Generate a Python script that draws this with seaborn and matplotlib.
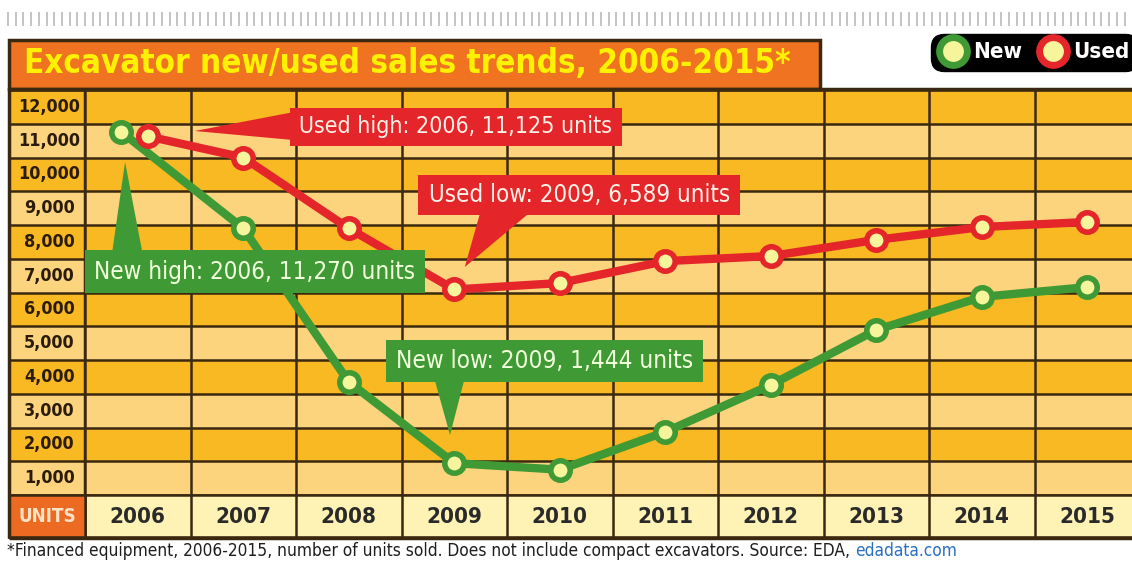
import numpy as np
import pandas as pd
import seaborn as sns
import matplotlib.pyplot as plt
from matplotlib import font_manager
from matplotlib.patches import Rectangle, Polygon
from matplotlib.lines import Line2D

# Data
YEARS = [2006, 2007, 2008, 2009, 2010, 2011, 2012, 2013, 2014, 2015]
NEW_UNITS = [11270, 8400, 3850, 1444, 1250, 2370, 3760, 5390, 6370, 6660]
USED_UNITS = [11125, 10500, 8400, 6589, 6780, 7430, 7580, 8060, 8440, 8590]
Y_TICKS = [12000, 11000, 10000, 9000, 8000, 7000, 6000, 5000, 4000, 3000, 2000, 1000]

TITLE = "Excavator new/used sales trends, 2006-2015*"
FOOTNOTE = ("*Financed equipment, 2006-2015, number of units sold. "
            "Does not include compact excavators. Source: EDA, ")
LINK = "edadata.com"

# Colours
GREEN = "#3f9a35"
RED = "#e4262b"
FILL = "#f7f59c"
DARK_ROW = "#f9b922"
LIGHT_ROW = "#fcd47e"
YEAR_CELL = "#fef2b4"
ORANGE = "#f07322"
GRID = "#3a2810"

sns.set_theme(style="white")

# prefer a condensed face if one is installed
ttf = font_manager.fontManager.ttflist
cond = [f for f in ttf if f.stretch in ("condensed", "semi-condensed", "extra-condensed")
        or "Narrow" in f.name or "Condensed" in f.name]
if cond:
    FONT, STRETCH = cond[0].name, cond[0].stretch
else:
    FONT, STRETCH = "DejaVu Sans", "normal"
plt.rcParams["font.family"] = [FONT, "DejaVu Sans"]
plt.rcParams["font.stretch"] = STRETCH

W, H = 1132, 565


def fx(px):
    return px / W


def fy(py):
    return 1 - py / H


fig = plt.figure(figsize=(W / 100, H / 100), dpi=100)
fig.patch.set_facecolor("white")
renderer = fig.canvas.get_renderer()


def fit(texts, target):
    # shrink texts (all by the same factor) so the widest is no wider than the reference
    if not isinstance(texts, list):
        texts = [texts]
    w = max(t.get_window_extent(renderer=renderer).width for t in texts)
    if w > target:
        for t in texts:
            t.set_fontsize(t.get_fontsize() * target / w)


# decorative ruler strip at the top
strip = fig.add_axes([0, fy(26), 1, 14 / H])
strip.vlines(np.arange(8, W, 7.7), 0, 1, color="#c4c4c4", lw=1.4)
strip.set_xlim(0, W)
strip.set_ylim(0, 1)
strip.axis("off")

# main plotting grid
ax = fig.add_axes([fx(85), fy(495), 1055 / W, 405 / H])
ax_lab = fig.add_axes([fx(9), fy(495), 76 / W, 405 / H], sharey=ax)
ax_yr = fig.add_axes([fx(85), fy(537), 1055 / W, 42 / H], sharex=ax)
ax_units = fig.add_axes([fx(9), fy(537), 76 / W, 42 / H])

for a in (ax, ax_lab):
    for v in Y_TICKS:
        a.axhspan(v - 500, v + 500, color=DARK_ROW if (v // 1000) % 2 == 0 else LIGHT_ROW,
                  zorder=0, lw=0)
    a.set_yticks(np.arange(500, 12501, 1000), minor=True)
    a.grid(which="minor", axis="y", color=GRID, lw=1.8)

ax.set_xlim(YEARS[0] - 0.5, YEARS[-1] + 0.5)
ax.set_ylim(500, 12500)
ax.set_xticks(np.arange(YEARS[0] - 0.5, YEARS[-1] + 1, 1), minor=True)
ax.grid(which="minor", axis="x", color=GRID, lw=1.8)
ax.grid(which="major", visible=False)

# lines (2006 points nudged apart so they do not sit on top of each other)
new_x = np.array(YEARS, float)
new_x[0] -= 0.16
used_x = np.array(YEARS, float)
used_x[0] += 0.1
df = pd.DataFrame({"x": np.concatenate([new_x, used_x]),
                   "units": NEW_UNITS + USED_UNITS,
                   "type": ["New"] * len(YEARS) + ["Used"] * len(YEARS)})
for kind, col in (("New", GREEN), ("Used", RED)):
    sns.lineplot(data=df[df["type"] == kind], x="x", y="units", ax=ax, color=col,
                 lw=6, marker="o", ms=14, mew=4, mfc=FILL, mec=col, zorder=3,
                 solid_joinstyle="round")
ax.set_xlabel("")
ax.set_ylabel("")
ax.tick_params(labelbottom=False, labelleft=False, length=0)
for s in ax.spines.values():
    s.set_visible(False)

# y labels column
ax_lab.set_xlim(0, 1)
ylabels = [ax_lab.text(0.53, v, f"{v:,}", ha="center", va="center", fontsize=15,
                       fontweight="semibold", color="#2b1c0a") for v in Y_TICKS]
fit(ylabels, 62)
ax_lab.tick_params(labelbottom=False, labelleft=False, length=0)
for s in ax_lab.spines.values():
    s.set_visible(False)
ax_lab.axvline(1, color=GRID, lw=2.5)

# year cells
ax_yr.set_facecolor(YEAR_CELL)
ax_yr.set_ylim(0, 1)
ylab = [ax_yr.text(yr, 0.48, str(yr), ha="center", va="center", fontsize=18,
                   fontweight="bold", color="#2a2a2a") for yr in YEARS]
fit(ylab, 56)
ax_yr.set_xticks(np.arange(YEARS[0] - 0.5, YEARS[-1] + 1, 1), minor=True)
ax_yr.grid(which="minor", axis="x", color=GRID, lw=1.8)
ax_yr.grid(which="major", visible=False)
ax_yr.tick_params(labelbottom=False, labelleft=False, length=0)
for s in ax_yr.spines.values():
    s.set_color(GRID)
    s.set_linewidth(1.8)

ax_units.set_facecolor("#ec6a22")
t = ax_units.text(0.5, 0.5, "UNITS", ha="center", va="center", fontsize=15,
                  fontweight="bold", color="#fde2c6")
fit(t, 58)
ax_units.set_xticks([])
ax_units.set_yticks([])
for s in ax_units.spines.values():
    s.set_color(GRID)
    s.set_linewidth(1.8)

# outer border and title box
fig.patches.append(Rectangle((fx(9), fy(538)), 1135 / W, 449 / H, transform=fig.transFigure,
                             fill=False, edgecolor=GRID, lw=2.5, zorder=10))
fig.patches.append(Rectangle((fx(9), fy(89)), 811 / W, 49 / H, transform=fig.transFigure,
                             facecolor=ORANGE, edgecolor=GRID, lw=2.5, zorder=1))
t = fig.text(fx(24), fy(64), TITLE, fontsize=25, fontweight="bold", color="#fff200",
             ha="left", va="center")
fit(t, 768)


# callouts
def callout(rect, tip, base, text, color, tcolor, width):
    (x0, x1), (y0, y1) = rect
    ax.add_patch(Rectangle((x0, y0), x1 - x0, y1 - y0, facecolor=color,
                           edgecolor="none", zorder=5, clip_on=False))
    ax.add_patch(Polygon([tip, base[0], base[1]], closed=True, facecolor=color,
                         edgecolor="none", zorder=5, clip_on=False))
    t = ax.text((x0 + x1) / 2, (y0 + y1) / 2, text, ha="center", va="center",
                fontsize=18, color=tcolor, zorder=6)
    fit(t, width)


callout(((2007.44, 2010.59), (10841, 11967)), (2006.54, 11285),
        [(2007.5, 11860), (2007.5, 11010)], "Used high: 2006, 11,125 units",
        RED, "#fff1e6", 312)
callout(((2008.66, 2011.71), (8796, 9981)), (2009.10, 7256),
        [(2009.24, 8800), (2009.69, 8800)], "Used low: 2009, 6,589 units",
        RED, "#fff1e6", 300)
callout(((2005.5, 2008.72), (6485, 7759)), (2005.88, 10367),
        [(2005.76, 7750), (2006.04, 7750)], "New high: 2006, 11,270 units",
        GREEN, "#f2ffdc", 320)
callout(((2008.35, 2011.36), (3848, 5093)), (2008.96, 2278),
        [(2008.82, 3850), (2009.09, 3850)], "New low: 2009, 1,444 units",
        GREEN, "#f2ffdc", 298)

# legend
handles = [Line2D([], [], ls="none", marker="o", ms=20, mew=5, mfc=FILL, mec=c)
           for c in (GREEN, RED)]
leg = fig.legend(handles, ["New", "Used"], loc="upper right", ncol=2,
                 bbox_to_anchor=(fx(1134), fy(38)), frameon=True, facecolor="black",
                 edgecolor="black", framealpha=1, labelcolor="white",
                 prop={"family": [FONT, "DejaVu Sans"], "stretch": STRETCH,
                       "weight": "bold", "size": 16},
                 borderpad=0.2, handletextpad=0.3, columnspacing=0.8,
                 handlelength=1.2, borderaxespad=0)
leg.get_frame().set_boxstyle("round,pad=0.2,rounding_size=0.6")

# footnote
foot = fig.text(fx(7), fy(551), FOOTNOTE, fontsize=13, color="#1e1e1e",
                ha="left", va="center")
fit(foot, 850)
ax.annotate(LINK, xy=(1, 0), xycoords=foot, va="bottom", ha="left",
            fontsize=foot.get_fontsize(), color="#2a6fc0", annotation_clip=False)

fig.savefig("out.png", dpi=100)
